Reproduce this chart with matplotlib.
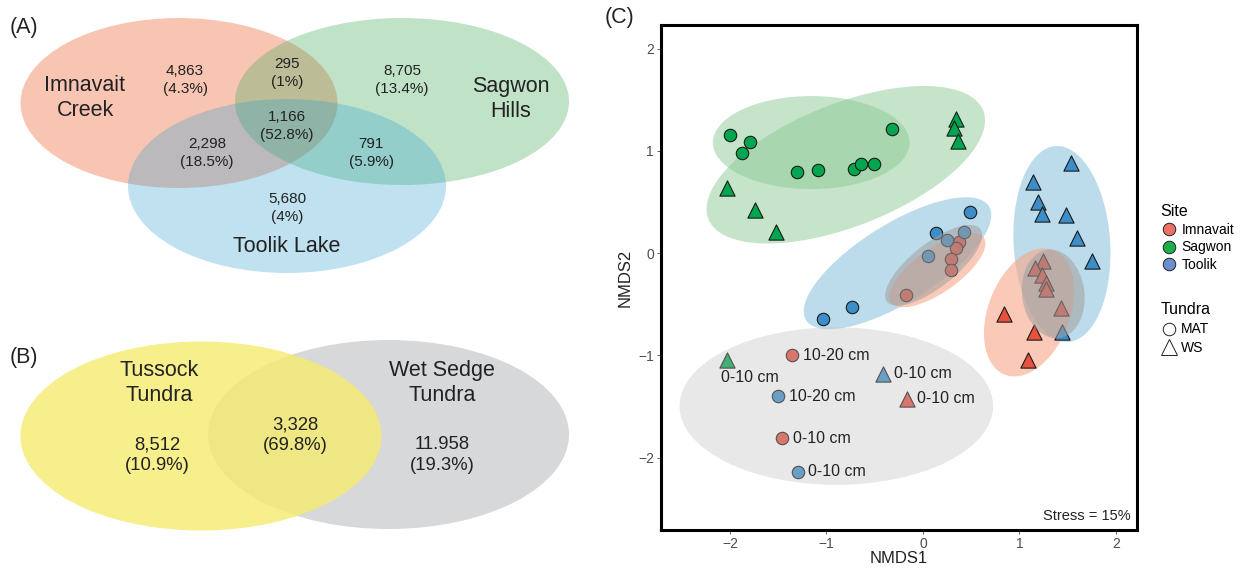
import matplotlib
matplotlib.use("Agg")
import matplotlib.pyplot as plt
from matplotlib.patches import Ellipse
from matplotlib.lines import Line2D

plt.rcParams["font.family"] = ["Liberation Sans", "DejaVu Sans"]

# =================================
# DATA
# =================================

# panel A: three-way venn (Imnavait, Sagwon, Toolik)
venn3_names = ["Imnavait\nCreek", "Sagwon\nHills", "Toolik Lake"]
venn3_counts = ["4,863\n(4.3%)", "295\n(1%)", "8,705\n(13.4%)", "2,298\n(18.5%)",
                "1,166\n(52.8%)", "791\n(5.9%)", "5,680\n(4%)"]

# panel B: two-way venn (tussock vs wet sedge)
venn2_names = ["Tussock\nTundra", "Wet Sedge\nTundra"]
venn2_counts = ["8,512\n(10.9%)", "3,328\n(69.8%)", "11.958\n(19.3%)"]

# panel C: NMDS scores
imn_mat_x = [0.373, 0.342, 0.287, 0.29, -0.176]
imn_mat_y = [0.111, 0.052, -0.059, -0.167, -0.41]
imn_ws_x = [1.248, 1.161, 1.23, 1.28, 1.28, 1.434, 0.844, 1.15, 1.092]
imn_ws_y = [-0.078, -0.144, -0.216, -0.297, -0.356, -0.542, -0.60, -0.775, -1.05]
sag_mat_x = [-2.0, -1.79, -1.876, -1.306, -1.085, -0.712, -0.646, -0.508, -0.318]
sag_mat_y = [1.157, 1.085, 0.977, 0.797, 0.814, 0.824, 0.866, 0.873, 1.216]
sag_ws_x = [0.342, 0.325, 0.36, -2.03, -1.74, -1.52]
sag_ws_y = [1.31, 1.22, 1.10, 0.64, 0.42, 0.21]
too_mat_x = [0.487, 0.131, 0.249, 0.43, 0.05, -0.739, -1.032]
too_mat_y = [0.405, 0.193, 0.127, 0.21, -0.03, -0.526, -0.65]
too_ws_x = [1.534, 1.137, 1.189, 1.233, 1.485, 1.60, 1.748, 1.44]
too_ws_y = [0.879, 0.699, 0.497, 0.382, 0.372, 0.144, -0.078, -0.77]

# labelled outlier samples
out_site = ["Sagwon", "Imnavait", "Toolik", "Toolik", "Imnavait", "Imnavait", "Toolik"]
out_tundra = ["WS", "MAT", "WS", "MAT", "WS", "MAT", "MAT"]
out_x = [-2.03, -1.354, -0.41, -1.5, -0.17, -1.457, -1.30]
out_y = [-1.05, -1.0, -1.18, -1.40, -1.425, -1.81, -2.14]
out_depth = ["0-10 cm", "10-20 cm", "0-10 cm", "10-20 cm", "0-10 cm", "0-10 cm", "0-10 cm"]

# group ellipses: center x, center y, width, height, angle
ell_sag_mat = (-1.158, 1.08, 2.04, 0.91, 0)
ell_sag_ws = (-0.80, 0.863, 3.04, 1.21, 20)
ell_too_mat = (-0.264, -0.10, 2.2, 0.78, 30)
ell_imn_mat = (0.15, -0.167, 1.15, 0.44, 33)
ell_too_ws = (1.44, 0.088, 1.92, 1.0, 94)
ell_imn_ws = (1.10, -0.58, 1.32, 0.84, 66)
ell_gray = [(0.11, -0.12, 1.2, 0.44, 36), (1.35, -0.40, 0.872, 0.646, 99)]
ell_out = (-0.898, -1.497, 3.25, 1.54, 0)

site_col = {"Imnavait": "#E8503F", "Sagwon": "#00A64F", "Toolik": "#3D8DC9"}
site_fill = {"Imnavait": "#F7A68A", "Sagwon": "#8CCB96", "Toolik": "#92C5DE"}
legend_col = {"Imnavait": "#EE7068", "Sagwon": "#1BAF4B", "Toolik": "#6C8FD0"}

# =================================
# FIGURE
# =================================

W, H = 1245, 568
fig = plt.figure(figsize=(W / 100, H / 100), dpi=100)
txt = "#222222"

# ---- venn panels (pixel coordinates) ----
av = fig.add_axes([0, 0, 600 / W, 1])
av.set_xlim(0, 600)
av.set_ylim(H, 0)
av.axis("off")

av.add_patch(Ellipse((179, 103), 317, 170, fc="#F58D69", alpha=0.5, lw=0))
av.add_patch(Ellipse((402, 101.5), 334, 167, fc="#4BAF62", alpha=0.35, lw=0))
av.add_patch(Ellipse((287, 186), 318, 174, fc="#2D9ED0", alpha=0.3, lw=0))

big = 15.5
small = 11
av.text(24, 27, "(A)", fontsize=big, ha="center", va="center", color=txt)
av.text(85, 98, venn3_names[0], fontsize=big, ha="center", va="center", color=txt, linespacing=1.2)
av.text(511, 99, venn3_names[1], fontsize=big, ha="center", va="center", color=txt, linespacing=1.2)
av.text(287, 247, venn3_names[2], fontsize=big, ha="center", va="center", color=txt)
for s, (x, y) in zip(venn3_counts, [(185, 80), (287, 73), (402, 80), (207, 153),
                                      (287, 126), (371, 153), (287, 208)]):
    av.text(x, y, s, fontsize=small, ha="center", va="center", color=txt, linespacing=1.3)

av.add_patch(Ellipse((388.5, 434.5), 361, 189, fc="#D7D8DA", lw=0))
av.add_patch(Ellipse((201, 436), 361, 189, fc="#F6EA6F", alpha=0.8, lw=0))
av.text(24, 358, "(B)", fontsize=big, ha="center", va="center", color=txt)
av.text(159, 383, venn2_names[0], fontsize=big, ha="center", va="center", color=txt, linespacing=1.2)
av.text(442, 383, venn2_names[1], fontsize=big, ha="center", va="center", color=txt, linespacing=1.2)
for s, (x, y) in zip(venn2_counts, [(157, 455), (295, 435), (442, 455)]):
    av.text(x, y, s, fontsize=13.3, ha="center", va="center", color=txt, linespacing=1.3)

# ---- NMDS panel ----
x0, x1, yt, yb = 661, 1137, 25, 530
ax = fig.add_axes([x0 / W, (H - yb) / H, (x1 - x0) / W, (yb - yt) / H])
ax.set_xlim(-2.715, 2.218)
ax.set_ylim(-2.709, 2.23)

def ell(e, **kw):
    ax.add_patch(Ellipse((e[0], e[1]), e[2], e[3], angle=e[4], lw=0, **kw))

ell(ell_sag_mat, fc=site_fill["Sagwon"], alpha=0.5, zorder=1)
ell(ell_sag_ws, fc=site_fill["Sagwon"], alpha=0.5, zorder=1)
ell(ell_too_mat, fc=site_fill["Toolik"], alpha=0.6, zorder=1)
ell(ell_too_ws, fc=site_fill["Toolik"], alpha=0.6, zorder=1)
ell(ell_imn_mat, fc=site_fill["Imnavait"], alpha=0.6, zorder=1.1)
ell(ell_imn_ws, fc=site_fill["Imnavait"], alpha=0.6, zorder=1.1)

groups = [
    (imn_mat_x, imn_mat_y, "Imnavait", "o"), (imn_ws_x, imn_ws_y, "Imnavait", "^"),
    (sag_mat_x, sag_mat_y, "Sagwon", "o"), (sag_ws_x, sag_ws_y, "Sagwon", "^"),
    (too_mat_x, too_mat_y, "Toolik", "o"), (too_ws_x, too_ws_y, "Toolik", "^"),
]
for gx, gy, site, m in groups:
    ax.scatter(gx, gy, s=80 if m == "o" else 120, marker=m, c=site_col[site],
               edgecolors="#1a1a1a", linewidths=0.8, zorder=3)

for i in range(len(out_x)):
    m = "o" if out_tundra[i] == "MAT" else "^"
    ax.scatter(out_x[i], out_y[i], s=80 if m == "o" else 120, marker=m,
               c=site_col[out_site[i]], edgecolors="#1a1a1a", linewidths=0.8, zorder=3)
    if out_site[i] == "Sagwon":
        ax.text(out_x[i] - 0.06, out_y[i] - 0.17, out_depth[i], fontsize=11.5,
                ha="left", va="center", color=txt, zorder=6)
    else:
        ax.text(out_x[i] + 0.11, out_y[i], out_depth[i], fontsize=11.5,
                ha="left", va="center", color=txt, zorder=6)

for e in ell_gray:
    ell(e, fc="#a0a0a0", alpha=0.55, zorder=4)
ell(ell_out, fc="#bebebe", alpha=0.35, zorder=4)

ax.text(0.987, 0.028, "Stress = 15%", transform=ax.transAxes, fontsize=10.5,
        ha="right", va="center", color=txt, zorder=6)

ax.set_xticks([-2, -1, 0, 1, 2])
ax.set_yticks([-2, -1, 0, 1, 2])
ax.tick_params(labelsize=10, labelcolor="#4d4d4d", color="#4d4d4d", length=3, width=0.6, pad=2)
for sp in ax.spines.values():
    sp.set_linewidth(2.2)
    sp.set_color("black")
ax.set_xlabel("NMDS1", fontsize=12, color=txt, labelpad=0)
ax.set_ylabel("NMDS2", fontsize=12, color=txt, labelpad=4)

fig.text(620 / W, 1 - 18 / H, "(C)", fontsize=big, ha="center", va="center", color=txt)

# ---- legends ----
site_handles = [Line2D([], [], marker="o", ls="", markersize=9, markerfacecolor=legend_col[k],
                       markeredgecolor="#222222", markeredgewidth=0.7) for k in legend_col]
leg1 = fig.legend(site_handles, list(legend_col.keys()), title="Site", loc="upper left",
                  bbox_to_anchor=(1148 / W, 1 - 192 / H), frameon=False, fontsize=10,
                  title_fontsize=11.5, handletextpad=0.3, labelspacing=0.25,
                  alignment="left", handlelength=1.2)
tundra_handles = [Line2D([], [], marker=m, ls="", markersize=ms, markerfacecolor="white",
                         markeredgecolor="#222222", markeredgewidth=0.7)
                  for m, ms in [("o", 9), ("^", 11)]]
leg2 = fig.legend(tundra_handles, ["MAT", "WS"], title="Tundra", loc="upper left",
                  bbox_to_anchor=(1148 / W, 1 - 290 / H), frameon=False, fontsize=10,
                  title_fontsize=11.5, handletextpad=0.3, labelspacing=0.35,
                  alignment="left", handlelength=1.2)

fig.savefig("out.png", dpi=100)
